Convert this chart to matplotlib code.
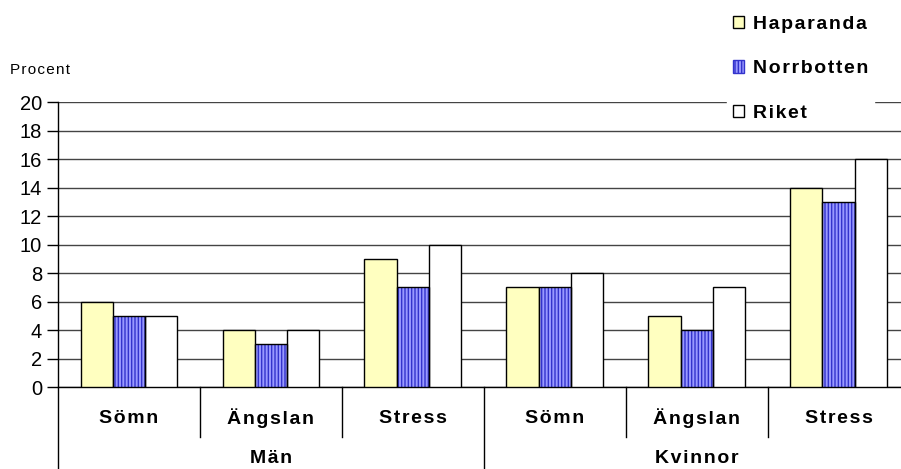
import matplotlib.pyplot as plt
import numpy as np
from matplotlib.patches import Patch

plt.rcParams['font.family'] = ['Liberation Sans', 'DejaVu Sans']

# data
kategorier = ['Sömn', 'Ängslan', 'Stress', 'Sömn', 'Ängslan', 'Stress']
grupper = ['Män', 'Kvinnor']
serier = ['Haparanda', 'Norrbotten', 'Riket']
haparanda = [6, 4, 9, 7, 5, 14]
norrbotten = [5, 3, 7, 7, 4, 13]
riket = [5, 4, 10, 8, 7, 16]


def spaced(s, sp='\u200a'):
    # wide letter spacing like the original
    return sp.join(s)


fig = plt.figure(figsize=(9.01, 4.69), dpi=100)
ax = fig.add_axes([58/901, 1-387/469, 1-58/901, 285/469])

x = np.arange(len(kategorier))
w = 0.227

ax.bar(x - w, haparanda, w, color='#FFFFC0', edgecolor='black', lw=1, zorder=3)
# hatched bar: blue fill with dark blue vertical stripes, black outline on top
ax.bar(x, norrbotten, w, color='#9999FF', edgecolor='#3333CC', hatch='|||||', lw=0, zorder=3)
ax.bar(x, norrbotten, w, fill=False, edgecolor='black', lw=1, zorder=4)
ax.bar(x + w, riket, w, color='white', edgecolor='black', lw=1, zorder=3)

ax.set_xlim(-0.5, 5.44)
ax.set_ylim(0, 20)
ax.set_yticks(range(0, 21, 2))
ax.tick_params(axis='y', labelsize=14.5, length=8, width=1, colors='black')
ax.set_xticks([])
ax.yaxis.grid(True, color='#444444', lw=1, zorder=0)
for s in ['top', 'right']:
    ax.spines[s].set_visible(False)
ax.spines['left'].set_visible(False)
ax.spines['bottom'].set_linewidth(1)

trans = ax.get_xaxis_transform()
# left axis line running down through the label area
ax.plot([-0.5, -0.5], [1, -0.29], color='black', lw=1, transform=trans, clip_on=False, zorder=5)
for b in [0.5, 1.5, 3.5, 4.5]:
    ax.plot([b, b], [0, -0.175], color='black', lw=1, transform=trans, clip_on=False)
ax.plot([2.5, 2.5], [0, -0.29], color='black', lw=1, transform=trans, clip_on=False)

for i, k in enumerate(kategorier):
    ax.text(i, -0.11, spaced(k), transform=trans, ha='center', va='center',
            fontsize=14, fontweight='bold')
for i, g in enumerate(grupper):
    ax.text(1 + 3*i, -0.25, spaced(g), transform=trans, ha='center', va='center',
            fontsize=14, fontweight='bold')

fig.text(10/901, 1-70/469, spaced('Procent'), fontsize=11, va='center', ha='left')

handles = [Patch(facecolor='#FFFFC0', edgecolor='black'),
           Patch(facecolor='#9999FF', edgecolor='#3333CC', hatch='|||||'),
           Patch(facecolor='white', edgecolor='black')]
leg = fig.legend(handles, [spaced(s) for s in serier],
                 loc='upper left', bbox_to_anchor=(717/901, 1.0),
                 frameon=True, fancybox=False, edgecolor='white', framealpha=1,
                 prop={'weight': 'bold', 'size': 14}, labelspacing=1.42,
                 handlelength=0.6, handleheight=0.6, handletextpad=0.45,
                 borderpad=0.3)
leg.get_frame().set_boxstyle('square', pad=0)

fig.savefig('out.png', dpi=100)
